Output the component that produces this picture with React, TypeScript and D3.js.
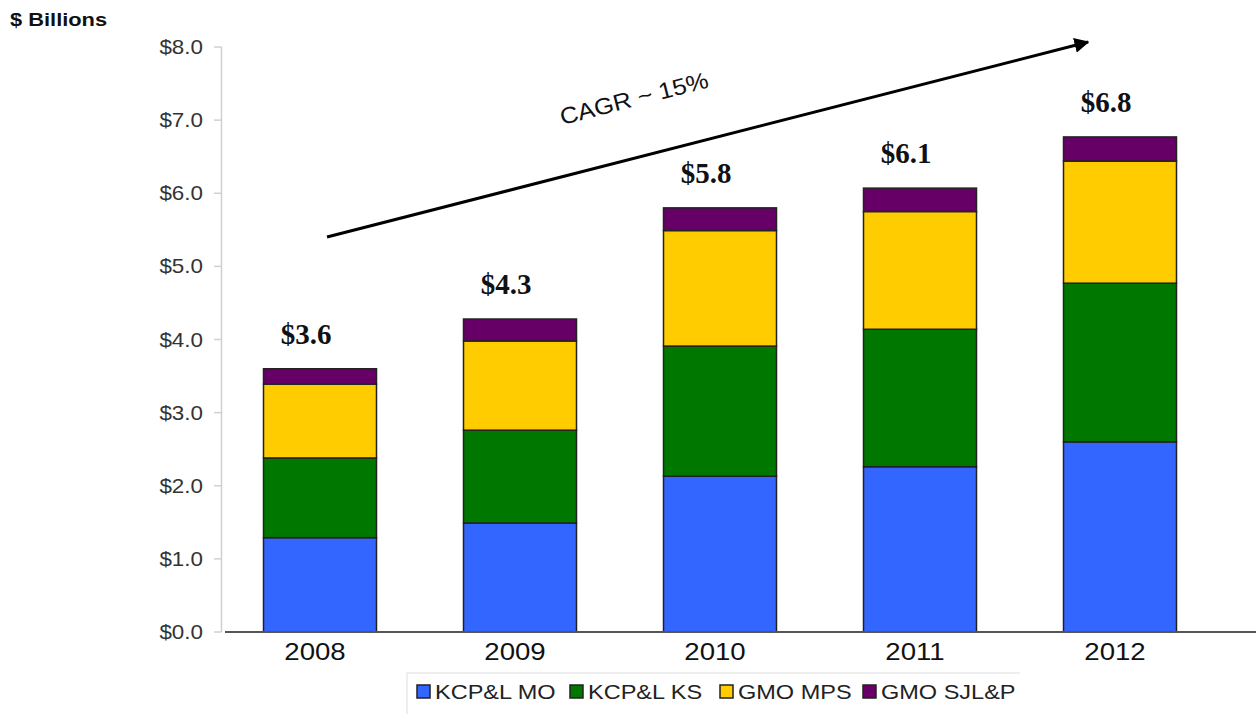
import * as d3 from 'd3';

const years = ['2008', '2009', '2010', '2011', '2012'];
const seriesNames = ['KCP&L MO', 'KCP&L KS', 'GMO MPS', 'GMO SJL&P'];
const kcplMo = [1.29, 1.49, 2.13, 2.26, 2.6];
const kcplKs = [1.09, 1.27, 1.78, 1.88, 2.17];
const gmoMps = [1.01, 1.22, 1.58, 1.61, 1.67];
const gmoSjlp = [0.21, 0.3, 0.31, 0.32, 0.33];
const totalLabels = ['$3.6', '$4.3', '$5.8', '$6.1', '$6.8'];
const yTicks = [0, 1, 2, 3, 4, 5, 6, 7, 8];
const colors = ['#3366ff', '#007800', '#ffcc00', '#660066'];

const W = 1256;
const H = 714;
// the source text is a little stretched sideways
const SX = 1.12;

export default function App(): JSX.Element {
  const rows = years.map((year, i) => ({
    year,
    'KCP&L MO': kcplMo[i],
    'KCP&L KS': kcplKs[i],
    'GMO MPS': gmoMps[i],
    'GMO SJL&P': gmoSjlp[i]
  }));
  const stacked = d3.stack<any>().keys(seriesNames)(rows);

  const x = d3
    .scaleBand()
    .domain(years)
    .range([220, 1220])
    .paddingInner(0.435)
    .paddingOuter(0.2175);
  const y = d3.scaleLinear().domain([0, 8]).range([632, 47]);

  const totals = rows.map((_, i) => kcplMo[i] + kcplKs[i] + gmoMps[i] + gmoSjlp[i]);

  // trend arrow
  const ax0 = 327;
  const ay0 = 237;
  const ax1 = 1088;
  const ay1 = 42;
  const angle = (Math.atan2(ay1 - ay0, ax1 - ax0) * 180) / Math.PI;

  const legendX = [417, 570, 720, 863];

  return (
    <svg
      width={W}
      height={H}
      style={{ position: 'absolute', left: 0, top: 0, background: '#fff' }}
      fontFamily="'Liberation Sans', Arial, sans-serif"
    >
      <defs>
        <marker id="arr" viewBox="0 0 10 10" refX="9" refY="5" markerWidth="5" markerHeight="5" orient="auto">
          <path d="M0,0 L10,5 L0,10 z" fill="#000" />
        </marker>
      </defs>
      <text transform={`translate(10,26) scale(1.15,1)`} fontSize={19} fontWeight="bold" fill="#111">
        $ Billions
      </text>

      {/* y axis */}
      <line x1={221.5} x2={221.5} y1={y(8)} y2={y(0)} stroke="#d0d0d0" strokeWidth={1.5} />
      {yTicks.map((t) => (
        <g key={t}>
          <line x1={214} x2={221.5} y1={y(t)} y2={y(t)} stroke="#d0d0d0" strokeWidth={1.5} />
          <text
            transform={`translate(203,${y(t)}) scale(${SX},1)`}
            dy="0.35em"
            textAnchor="end"
            fontSize={20}
            fill="#333"
          >
            {'$' + d3.format('.1f')(t)}
          </text>
        </g>
      ))}

      {/* bars */}
      {stacked.map((s, si) => (
        <g key={s.key} fill={colors[si]} stroke="#222" strokeWidth={1.5}>
          {s.map((d, i) => (
            <rect
              key={i}
              x={x(years[i])}
              y={y(d[1])}
              width={x.bandwidth()}
              height={y(d[0]) - y(d[1])}
            />
          ))}
        </g>
      ))}

      <line x1={225} x2={W} y1={y(0)} y2={y(0)} stroke="#555" strokeWidth={2} />

      {years.map((yr) => (
        <text
          key={yr}
          transform={`translate(${(x(yr) ?? 0) + x.bandwidth() / 2 - 5},660) scale(1.15,1)`}
          textAnchor="middle"
          fontSize={24}
          fill="#111"
        >
          {yr}
        </text>
      ))}

      {totalLabels.map((lab, i) => (
        <text
          key={lab}
          x={(x(years[i]) ?? 0) + x.bandwidth() / 2 - 14}
          y={y(totals[i]) - 25}
          textAnchor="middle"
          fontSize={29}
          fontWeight="bold"
          fontFamily="'Liberation Serif', 'Times New Roman', serif"
          fill="#111"
        >
          {lab}
        </text>
      ))}

      {/* CAGR arrow */}
      <line x1={ax0} y1={ay0} x2={ax1} y2={ay1} stroke="#000" strokeWidth={3} markerEnd="url(#arr)" />
      <text
        transform={`translate(636,106) rotate(${angle}) scale(1.1,1)`}
        textAnchor="middle"
        fontSize={23}
        fill="#111"
      >
        CAGR ~ 15%
      </text>

      {/* legend */}
      <line x1={407} x2={1020} y1={673} y2={673} stroke="#ddd" strokeWidth={1} />
      <line x1={407} x2={407} y1={673} y2={H} stroke="#ddd" strokeWidth={1} />
      {seriesNames.map((n, i) => (
        <g key={n}>
          <rect x={legendX[i]} y={685} width={13} height={13} fill={colors[i]} stroke="#222" strokeWidth={1.5} />
          <text transform={`translate(${legendX[i] + 18},699) scale(${SX},1)`} fontSize={21} fill="#222">
            {n}
          </text>
        </g>
      ))}
    </svg>
  );
}
